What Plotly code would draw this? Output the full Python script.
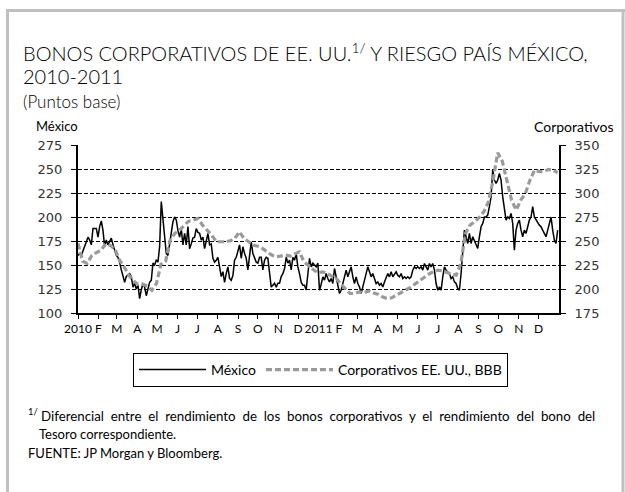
import pandas as pd
import plotly.graph_objects as go

# ---------------- data ----------------
mexico_2010 = [160, 162, 160, 165, 170, 174, 179, 176, 171, 188, 188, 188, 179, 190, 196, 186, 169, 176, 171, 175,
               178, 171, 165, 160, 158, 153, 145, 138, 132, 138, 140, 141, 138, 127, 131, 125, 129, 115, 124, 131,
               127, 118, 125, 132, 134, 152, 150, 155, 153, 169, 216, 195, 179, 162, 160, 171, 186, 195, 200, 197,
               186, 179, 188, 171, 183, 171, 190, 167, 172, 178, 179, 188, 184, 183, 176, 179, 167, 176, 183, 171,
               172, 157, 153, 155, 158, 148, 138, 143, 132, 141, 148, 136, 134, 139, 155, 158, 165, 171, 157, 169,
               162, 157, 145, 162, 174, 162, 157, 153, 152, 158, 158, 145, 155, 158, 157, 138, 127, 129, 131, 127,
               131, 131, 138, 141, 146, 158, 152, 155, 145, 158, 155, 162, 148, 141, 132, 129, 129, 124, 141, 157,
               148, 152, 150, 148, 152]
mexico_2011 = [123.7, 130, 137.7, 134.2, 141.1, 135.9, 132.4, 135.9, 130.7, 146.4, 137.7, 132.4, 120.3, 123.7, 130.7,
               135.9, 144.6, 137.7, 142.9, 148.1, 137.7, 130.7, 137.7, 130.7, 127.2, 120.3, 127.2, 134.2, 141.1, 148.1,
               142.9, 137.7, 141.1, 135.9, 130.7, 132.4, 129, 130.7, 127.2, 132.4, 137.7, 141.1, 137.7, 142.9, 137.7,
               141.1, 142.9, 139.4, 137.7, 141.1, 135.9, 137.7, 135.9, 137.7, 135.9, 137.7, 144.6, 148.1, 146.4, 148.1,
               146.4, 148.1, 144.6, 151.6, 148.1, 144.6, 151.6, 148.1, 151.6, 144.6, 130.7, 123.7, 127.2, 123.7, 137.7,
               148.1, 144.6, 142.9, 141.1, 135.9, 137.7, 132.4, 130.7, 125.5, 123.7, 141.1, 165.5, 186.3, 179.4, 172.4,
               182.9, 172.4, 179.4, 175.9, 170.7, 167.2, 179.4, 189.8, 193.3, 200, 200, 202, 210.7, 221, 249,
               238.5, 235, 238.5, 245.4, 238.5, 221, 207, 196.8, 200, 198.5, 203.7, 193.3, 165.5, 186.3, 193.3,
               196.8, 186.3, 179.4, 186.3, 182.9, 189.8, 196.8, 200, 210.7, 200, 196.8, 195, 191.5, 189.8, 186.3,
               182.9, 179.4, 186.3, 193.3, 200, 186.3, 175.9, 172.4, 186.3]
mexico = mexico_2010 + mexico_2011

corporativos = [247.4, 229, 226.6, 235, 238, 240.5, 247, 245.3, 241.5, 230, 223, 214.4, 208.5, 205, 205, 203, 198.7,
                205.7, 225.9, 229, 250.9, 257.9, 261.3, 266.5, 270.7, 271.8, 273.5, 266.5, 261.3, 256, 249.2, 249.2,
                249.2, 250.2, 252.6, 259.6, 252.6, 249.2, 245.7, 244.6, 242.2, 238.7, 235.3, 233.5, 234.2, 235.3,
                234.2, 236.3, 238.7, 228.3, 223.8, 220.3, 216.8,
                217.9, 216.1, 213.4, 211, 205, 200.5, 195.3, 195.3, 197, 196, 198, 196, 194.6, 191.8, 190, 190.8,
                193.5, 195.3, 198.7, 201.5, 205, 208.5, 212.7, 215.4, 217.9, 219.6, 218.9, 216.8, 215.4, 214.4,
                226.6, 257.9, 266.5, 270, 274.5, 280.5, 290.9, 313.5, 342, 333, 311.8, 292.6, 282.2, 292.6, 299.6,
                313.5, 323.9, 322.2, 322.2, 324.6, 323.9, 321.1]

mexico_dates = pd.date_range("2010-01-01", "2011-12-30", periods=len(mexico))
corp_dates = pd.date_range("2010-01-01", periods=len(corporativos), freq="7D")

tick_dates = pd.date_range("2010-01-01", "2011-12-01", freq="MS")
tick_labels = ["2010", "F", "M", "A", "M", "J", "J", "A", "S", "O", "N", "D",
               "2011", "F", "M", "A", "M", "J", "J", "A", "S", "O", "N", "D"]

# ---------------- layout helpers ----------------
L, R, T, B = 78, 559, 145, 313
def px(x):
    return (x - L) / (R - L)
def py(y):
    return (B - y) / (B - T)

TXT = "Lato"
NUM = "DejaVu Sans"

fig = go.Figure()
fig.add_trace(go.Scatter(x=mexico_dates, y=mexico, name="México", mode="lines",
                         line=dict(color="black", width=1.5), yaxis="y"))
fig.add_trace(go.Scatter(x=corp_dates, y=corporativos, name="Corporativos EE. UU., BBB", mode="lines",
                         line=dict(color="#9a9a9a", width=3.2, dash="6px,3px"), yaxis="y2"))

fig.update_layout(
    width=625, height=492,
    margin=dict(l=L, r=625 - R, t=T, b=492 - B, pad=0),
    paper_bgcolor="white", plot_bgcolor="white",
    showlegend=True,
    legend=dict(orientation="h", x=px(133), y=py(370), xanchor="left", yanchor="middle",
                bordercolor="black", borderwidth=1, bgcolor="white",
                font=dict(family=TXT, size=14, color="black"), itemwidth=67,
                traceorder="normal"),
    xaxis=dict(range=["2010-01-01", "2012-01-01"], tickvals=tick_dates, ticktext=tick_labels,
               showgrid=False, showline=True, linecolor="black", linewidth=2,
               ticks="outside", ticklen=4, tickcolor="black", tickwidth=1,
               tickfont=dict(family=TXT, size=12, color="black"), tickangle=0),
    yaxis=dict(range=[100, 275], dtick=25, tick0=100, showline=True, linecolor="black", linewidth=2,
               ticks="outside", ticklen=5, tickcolor="black", ticklabelstandoff=6,
               showgrid=True, gridcolor="black", gridwidth=1, griddash="4px,2px",
               tickfont=dict(family=NUM, size=13, color="#333"), zeroline=False),
    yaxis2=dict(range=[175, 350], dtick=25, tick0=175, overlaying="y", side="right",
                showline=True, linecolor="black", linewidth=2, ticks="outside", ticklen=5,
                tickcolor="black", ticklabelstandoff=6, showgrid=False,
                tickfont=dict(family=NUM, size=13, color="#333"), zeroline=False),
)

ann = [
    dict(text="BONOS CORPORATIVOS DE EE. UU.<sup>1/</sup> Y RIESGO PAÍS MÉXICO,", x=px(21), y=py(52),
         size=20, weight=300),
    dict(text="2010-2011", x=px(21), y=py(76), size=20, weight=300),
    dict(text="(Puntos base)", x=px(21), y=py(101), size=17, weight=300),
    dict(text="México", x=px(34), y=py(126), size=13, weight=400),
    dict(text="<sup>1/</sup> Diferencial&nbsp; entre&nbsp; el&nbsp; rendimiento&nbsp; de&nbsp; los&nbsp; bonos&nbsp; "
              "corporativos&nbsp; y&nbsp; el&nbsp; rendimiento&nbsp; del&nbsp; bono&nbsp; del",
         x=px(26), y=py(415), size=13.3, weight=400),
    dict(text="Tesoro correspondiente.", x=px(37), y=py(434), size=13, weight=400),
    dict(text="FUENTE: JP Morgan y Bloomberg.", x=px(26), y=py(453), size=13, weight=400),
]
for a in ann:
    fig.add_annotation(text=a["text"], x=a["x"], y=a["y"], xref="paper", yref="paper",
                       xanchor="left", yanchor="middle", showarrow=False,
                       font=dict(family=TXT, size=a["size"], color="black", weight=a["weight"]))
fig.add_annotation(text="Corporativos", x=px(616), y=py(126), xref="paper", yref="paper",
                   xanchor="right", yanchor="middle", showarrow=False,
                   font=dict(family=TXT, size=14, color="black"))

# gray frame (left, top, right)
frame = dict(color="#c0c0c0", width=3)
fig.add_shape(type="line", xref="paper", yref="paper", x0=px(7.5), x1=px(7.5), y0=py(10.5), y1=py(492),
              line=frame, layer="below")
fig.add_shape(type="line", xref="paper", yref="paper", x0=px(6), x1=px(625), y0=py(10.5), y1=py(10.5),
              line=frame, layer="below")
fig.add_shape(type="line", xref="paper", yref="paper", x0=px(623), x1=px(623), y0=py(10.5), y1=py(492),
              line=frame, layer="below")

fig.write_html("out.html", config={"displayModeBar": False},
               post_script="document.body.style.margin='0';document.body.style.overflow='hidden';")
